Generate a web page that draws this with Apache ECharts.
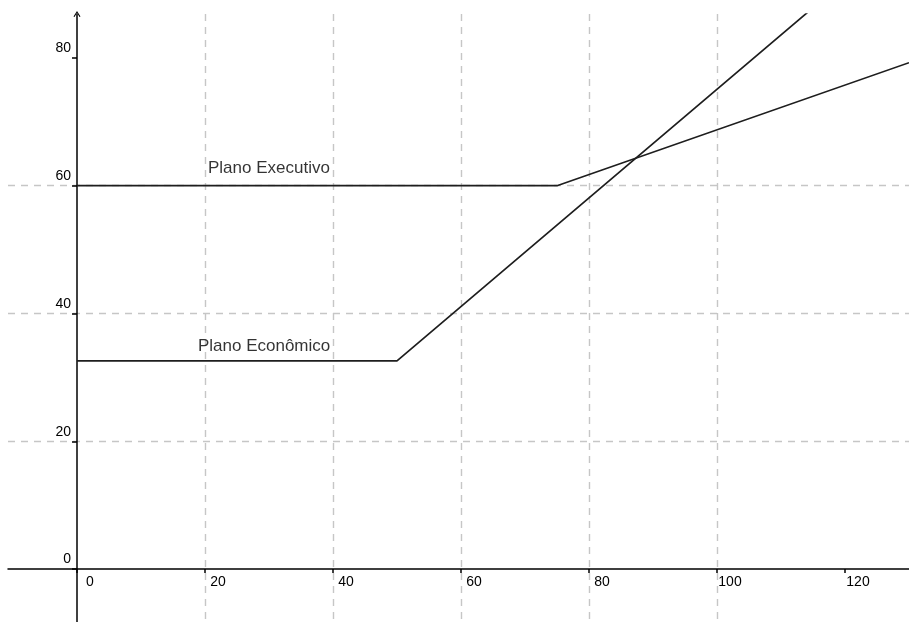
<!DOCTYPE html>
<html>
<head>
<meta charset="utf-8">
<script src="https://cdn.jsdelivr.net/npm/echarts@6/dist/echarts.min.js"></script>
<style>
html,body{margin:0;padding:0;background:#fff;}
#chart{width:909px;height:622px;}
</style>
</head>
<body>
<div id="chart"></div>
<script>
// Data
var execX = [0, 75, 130];
var execY = [60, 60, 79.25];
var econX = [0, 50, 115];
var econY = [32.6, 32.6, 87.85];
var xTicks = [0, 20, 40, 60, 80, 100, 120];
var yTicks = [0, 20, 40, 60, 80];
var labelNames = ['Plano Executivo', 'Plano Econômico'];
var labelX = [20.47, 18.9];
var labelY = [61.4, 33.5];

function pairs(xs, ys) { return xs.map(function (x, i) { return [x, ys[i]]; }); }

var chart = echarts.init(document.getElementById('chart'), null, { renderer: 'canvas' });
var font = 'Liberation Sans, Arial, sans-serif';

var option = {
  animation: false,
  backgroundColor: '#ffffff',
  grid: { left: 8, right: 0, top: 14, bottom: 0, containLabel: false, outerBoundsMode: 'none' },
  xAxis: {
    type: 'value', position: 'bottom', offset: -53,
    min: -10.78, max: 130,
    minInterval: 20, maxInterval: 20,
    axisLine: { show: true, onZero: false, lineStyle: { color: '#000', width: 1.5 } },
    axisTick: { show: true, inside: false, length: 4, customValues: xTicks, lineStyle: { color: '#000', width: 1.5 } },
    axisLabel: {
      show: true, customValues: xTicks, margin: 6, align: 'center', padding: [0, 0, 0, 26],
      color: '#000', fontSize: 14, fontFamily: font
    },
    splitLine: { show: true, showMinLine: false, showMaxLine: false, lineStyle: { color: '#c6c6c6', width: 1.4, type: [7, 6] } }
  },
  yAxis: {
    type: 'value', position: 'left', offset: -69,
    min: -8.28, max: 86.875,
    minInterval: 20, maxInterval: 20,
    axisLine: {
      show: true, onZero: false,
      symbol: ['none', 'path://M0,8 L5,0 L10,8 L8.6,8.6 L5,2.6 L1.4,8.6 Z'],
      symbolSize: [8, 6],
      lineStyle: { color: '#000', width: 1.5 }
    },
    axisTick: { show: true, inside: false, length: 5, customValues: yTicks, lineStyle: { color: '#000', width: 1.5 } },
    axisLabel: {
      show: true, customValues: yTicks, margin: 6, align: 'right',
      formatter: '{v|{value}}',
      rich: { v: { fontSize: 14, fontFamily: font, color: '#000', lineHeight: 14, padding: [0, 0, 19, 0] } },
      color: '#000', fontSize: 14, fontFamily: font
    },
    splitLine: { show: true, showMinLine: false, showMaxLine: false, lineStyle: { color: '#c6c6c6', width: 1.4, type: [7, 6] } }
  },
  series: [
    {
      name: 'Plano Executivo', type: 'line', data: pairs(execX, execY),
      showSymbol: false, symbol: 'none', clip: true,
      lineStyle: { color: '#1e1e1e', width: 1.7 }, z: 5
    },
    {
      name: 'Plano Econômico', type: 'line', data: pairs(econX, econY),
      showSymbol: false, symbol: 'none', clip: true,
      lineStyle: { color: '#1e1e1e', width: 1.7 }, z: 5
    },
    {
      name: 'labels', type: 'scatter', symbolSize: 0, silent: true,
      data: labelNames.map(function (n, i) { return { name: n, value: [labelX[i], labelY[i]] }; }),
      label: {
        show: true, position: [0, 0], align: 'left', verticalAlign: 'bottom',
        formatter: function (p) { return p.name; },
        color: '#000', fontSize: 17, fontFamily: font
      }, z: 6
    }
  ]
};
chart.setOption(option);
</script>
</body>
</html>
